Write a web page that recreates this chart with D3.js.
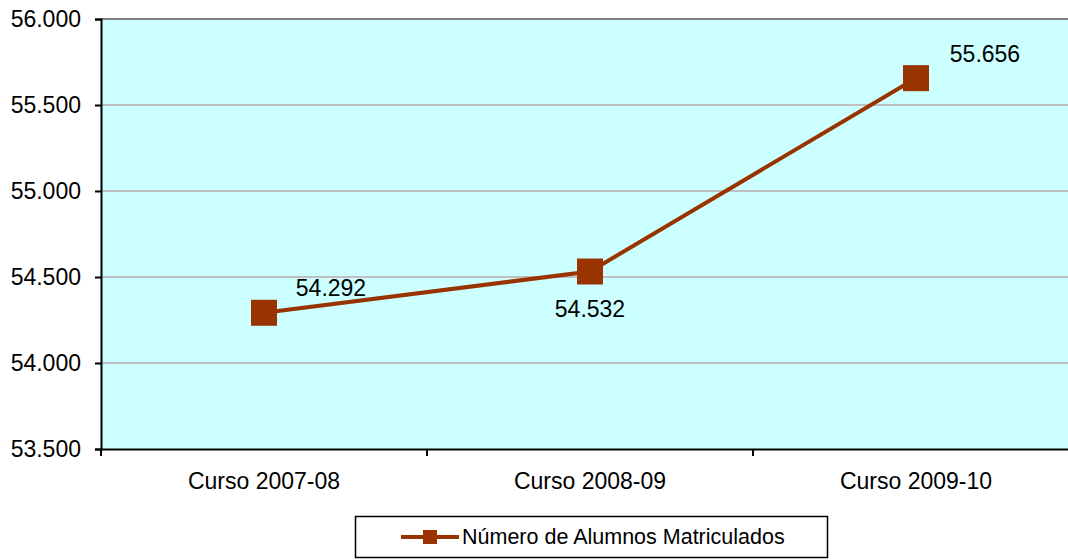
<!DOCTYPE html>
<html>
<head>
<meta charset="utf-8">
<script src="https://cdn.jsdelivr.net/npm/d3@7"></script>
<style>
  body { margin: 0; background: #fff; }
  svg { display: block; font-family: "Liberation Sans", Arial, sans-serif; }
</style>
</head>
<body>
<svg id="chart" width="1068" height="560"></svg>
<script>
var categories = ["Curso 2007-08", "Curso 2008-09", "Curso 2009-10"];
var alumnos = [54292, 54532, 55656];
var yTicks = [53500, 54000, 54500, 55000, 55500, 56000];
var seriesName = "Número de Alumnos Matriculados";

var svg = d3.select("#chart"),
    plotLeft = 101, plotTop = 19, plotRight = 1079, plotBottom = 449;

var fmt = function(v) { return d3.format(",")(v).replace(/,/g, "."); };

var x = d3.scaleBand().domain(categories).range([plotLeft, plotRight]);
var y = d3.scaleLinear().domain([53500, 56000]).range([plotBottom, plotTop]);

// plot background
svg.append("rect")
  .attr("x", plotLeft).attr("y", plotTop)
  .attr("width", plotRight - plotLeft).attr("height", plotBottom - plotTop)
  .attr("fill", "#ccffff");

// gridlines
svg.append("g").selectAll("line")
  .data(yTicks.filter(function(d) { return d > 53500; }))
  .enter().append("line")
    .attr("x1", plotLeft).attr("x2", plotRight)
    .attr("y1", function(d) { return y(d); })
    .attr("y2", function(d) { return y(d); })
    .attr("stroke", function(d) { return d === 56000 ? "#808080" : "#c0c0c0"; })
    .attr("stroke-width", 2);

// y axis
var yAxis = svg.append("g")
  .attr("transform", "translate(" + plotLeft + ",0)")
  .call(d3.axisLeft(y).tickValues(yTicks).tickFormat(fmt).tickSize(6).tickPadding(14));
yAxis.select(".domain").attr("stroke", "#000").attr("stroke-width", 2);
yAxis.selectAll(".tick line").attr("stroke", "#000").attr("stroke-width", 2);
yAxis.selectAll("text").attr("font-size", 23).attr("fill", "#000")
  .attr("font-family", "Liberation Sans, Arial, sans-serif");

// x axis
var xAxis = svg.append("g")
  .attr("transform", "translate(0," + plotBottom + ")")
  .call(d3.axisBottom(x).tickSize(0).tickPadding(24));
xAxis.select(".domain").attr("stroke", "#000").attr("stroke-width", 2);
xAxis.selectAll("text").attr("font-size", 23).attr("fill", "#000")
  .attr("font-family", "Liberation Sans, Arial, sans-serif");

// category separators on x axis
svg.append("g").selectAll("line")
  .data(categories)
  .enter().append("line")
    .attr("x1", function(d) { return x(d); })
    .attr("x2", function(d) { return x(d); })
    .attr("y1", plotBottom).attr("y2", plotBottom + 7)
    .attr("stroke", "#000").attr("stroke-width", 2);

var cx = function(d, i) { return x(categories[i]) + x.bandwidth() / 2; };

// line
var line = d3.line()
  .x(function(d, i) { return cx(d, i); })
  .y(function(d) { return y(d); });

svg.append("path")
  .datum(alumnos)
  .attr("d", line)
  .attr("fill", "none")
  .attr("stroke", "#993300")
  .attr("stroke-width", 4);

// markers
svg.append("g").selectAll("rect")
  .data(alumnos)
  .enter().append("rect")
    .attr("x", function(d, i) { return cx(d, i) - 13; })
    .attr("y", function(d) { return y(d) - 13; })
    .attr("width", 26).attr("height", 26)
    .attr("fill", "#993300");

// value labels
var labelOffsets = [[67, -17], [0, 46], [69, -16]];
svg.append("g").selectAll("text")
  .data(alumnos)
  .enter().append("text")
    .attr("x", function(d, i) { return cx(d, i) + labelOffsets[i][0]; })
    .attr("y", function(d, i) { return y(d) + labelOffsets[i][1]; })
    .attr("text-anchor", "middle")
    .attr("font-size", 23)
    .attr("fill", "#000")
    .text(fmt);

// legend
var lg = svg.append("g");
lg.append("rect")
  .attr("x", 355.5).attr("y", 516.5)
  .attr("width", 472).attr("height", 41)
  .attr("fill", "#fff").attr("stroke", "#000").attr("stroke-width", 1.5);
lg.append("line")
  .attr("x1", 401).attr("x2", 459).attr("y1", 537).attr("y2", 537)
  .attr("stroke", "#993300").attr("stroke-width", 4);
lg.append("rect")
  .attr("x", 423).attr("y", 530).attr("width", 14).attr("height", 14)
  .attr("fill", "#993300");
lg.append("text")
  .attr("x", 462).attr("y", 544)
  .attr("font-size", 21.5).attr("fill", "#000")
  .text(seriesName);
</script>
</body>
</html>
